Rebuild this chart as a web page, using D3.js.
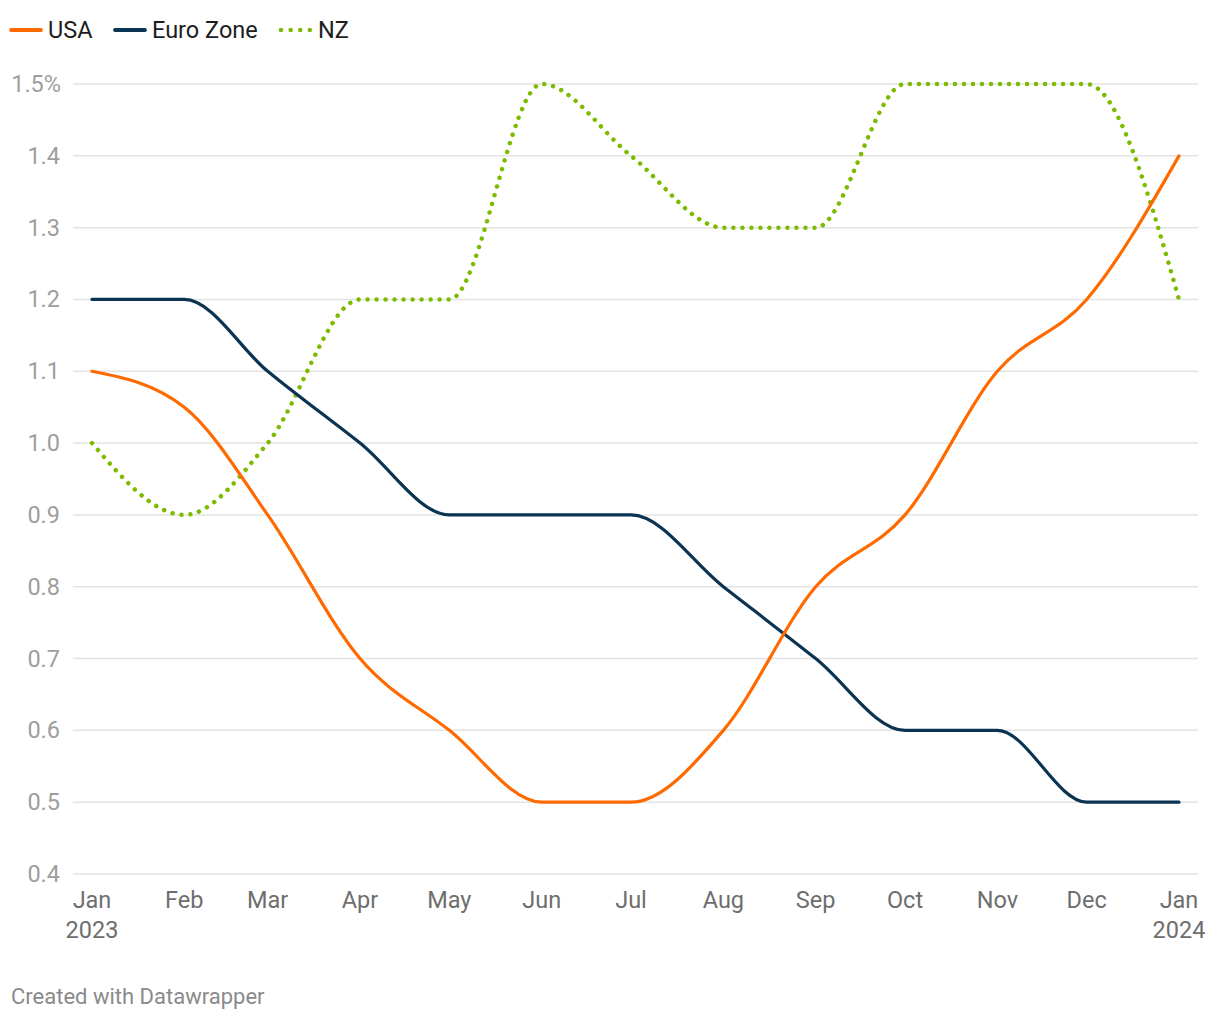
<!DOCTYPE html>
<html><head><meta charset="utf-8">
<script src="https://cdn.jsdelivr.net/npm/d3@7"></script>
<style>
body{margin:0;background:#fff;font-family:Roboto,"Noto Sans",sans-serif;}
</style></head>
<body><svg id="c" width="1220" height="1020"></svg>
<script>
const months = ["2023-01-01","2023-02-01","2023-03-01","2023-04-01","2023-05-01","2023-06-01","2023-07-01","2023-08-01","2023-09-01","2023-10-01","2023-11-01","2023-12-01","2024-01-01"];
const usa  = [1.1,1.05,0.9,0.7,0.6,0.5,0.5,0.6,0.8,0.9,1.1,1.2,1.4];
const euro = [1.2,1.2,1.1,1.0,0.9,0.9,0.9,0.8,0.7,0.6,0.6,0.5,0.5];
const nz   = [1.0,0.9,1.0,1.2,1.2,1.5,1.4,1.3,1.3,1.5,1.5,1.5,1.2];
const yTicks = [0.4,0.5,0.6,0.7,0.8,0.9,1.0,1.1,1.2,1.3,1.4,1.5];
const xLabels = ["Jan","Feb","Mar","Apr","May","Jun","Jul","Aug","Sep","Oct","Nov","Dec","Jan"];
const seriesNames = ["USA","Euro Zone","NZ"];

const parse = d3.timeParse("%Y-%m-%d");
const dates = months.map(parse);
const svg = d3.select("#c");
const x = d3.scaleTime().domain([dates[0], dates[dates.length-1]]).range([92,1179]);
const y = d3.scaleLinear().domain([0.4,1.5]).range([874,84]);

// grid
svg.append("g").selectAll("line").data(yTicks).join("line")
  .attr("x1",73).attr("x2",1198).attr("y1",d=>y(d)).attr("y2",d=>y(d))
  .attr("stroke","#e3e3e3").attr("stroke-width",1.5);
svg.append("g").selectAll("text").data(yTicks).join("text")
  .attr("x",d=>d===1.5?61:60).attr("y",d=>y(d)+8).attr("text-anchor","end")
  .attr("font-size",23.5).attr("fill","#9e9e9e")
  .text(d=>d===1.5? d.toFixed(1)+"%" : d.toFixed(1));

// x labels
const xl = svg.append("g");
dates.forEach((d,i)=>{
  xl.append("text").attr("x",x(d)).attr("y",908).attr("text-anchor","middle")
    .attr("font-size",23.5).attr("fill","#6e6e6e").text(xLabels[i]);
  if(i===0||i===dates.length-1){
    xl.append("text").attr("x",x(d)).attr("y",938).attr("text-anchor","middle")
      .attr("font-size",23.5).attr("fill","#6e6e6e").text(d.getFullYear());
  }
});

const line = d3.line().x((v,i)=>x(dates[i])).y(v=>y(v)).curve(d3.curveMonotoneX);
const styles = [
  {data:usa, color:"#ff6a00", dash:null, w:3.2},
  {data:euro, color:"#0a3452", dash:null, w:3.2},
  {data:nz, color:"#7dbb00", dash:"0.01,9", w:4.5}
];
[styles[2],styles[1],styles[0]].forEach(s=>{
  svg.append("path").attr("d",line(s.data)).attr("fill","none")
    .attr("stroke",s.color).attr("stroke-width",s.w)
    .attr("stroke-linecap","round").attr("stroke-linejoin","round")
    .attr("stroke-dasharray",s.dash);
});

// legend
const lg = [{x:11,tx:48},{x:115,tx:152},{x:281,tx:318}];
styles.forEach((s,i)=>{
  svg.append("line").attr("x1",lg[i].x).attr("x2",lg[i].x+30).attr("y1",30).attr("y2",30)
    .attr("stroke",s.color).attr("stroke-width",s.dash?4.5:3.8).attr("stroke-linecap","round")
    .attr("stroke-dasharray",s.dash ? "0.01,9.6" : null);
  svg.append("text").attr("x",lg[i].tx).attr("y",38).attr("font-size",23.5).attr("fill","#1d1d1d")
    .text(seriesNames[i]);
});

svg.append("text").attr("x",11).attr("y",1004).attr("font-size",22).attr("fill","#8a8a8a")
  .text("Created with Datawrapper");
</script></body></html>
